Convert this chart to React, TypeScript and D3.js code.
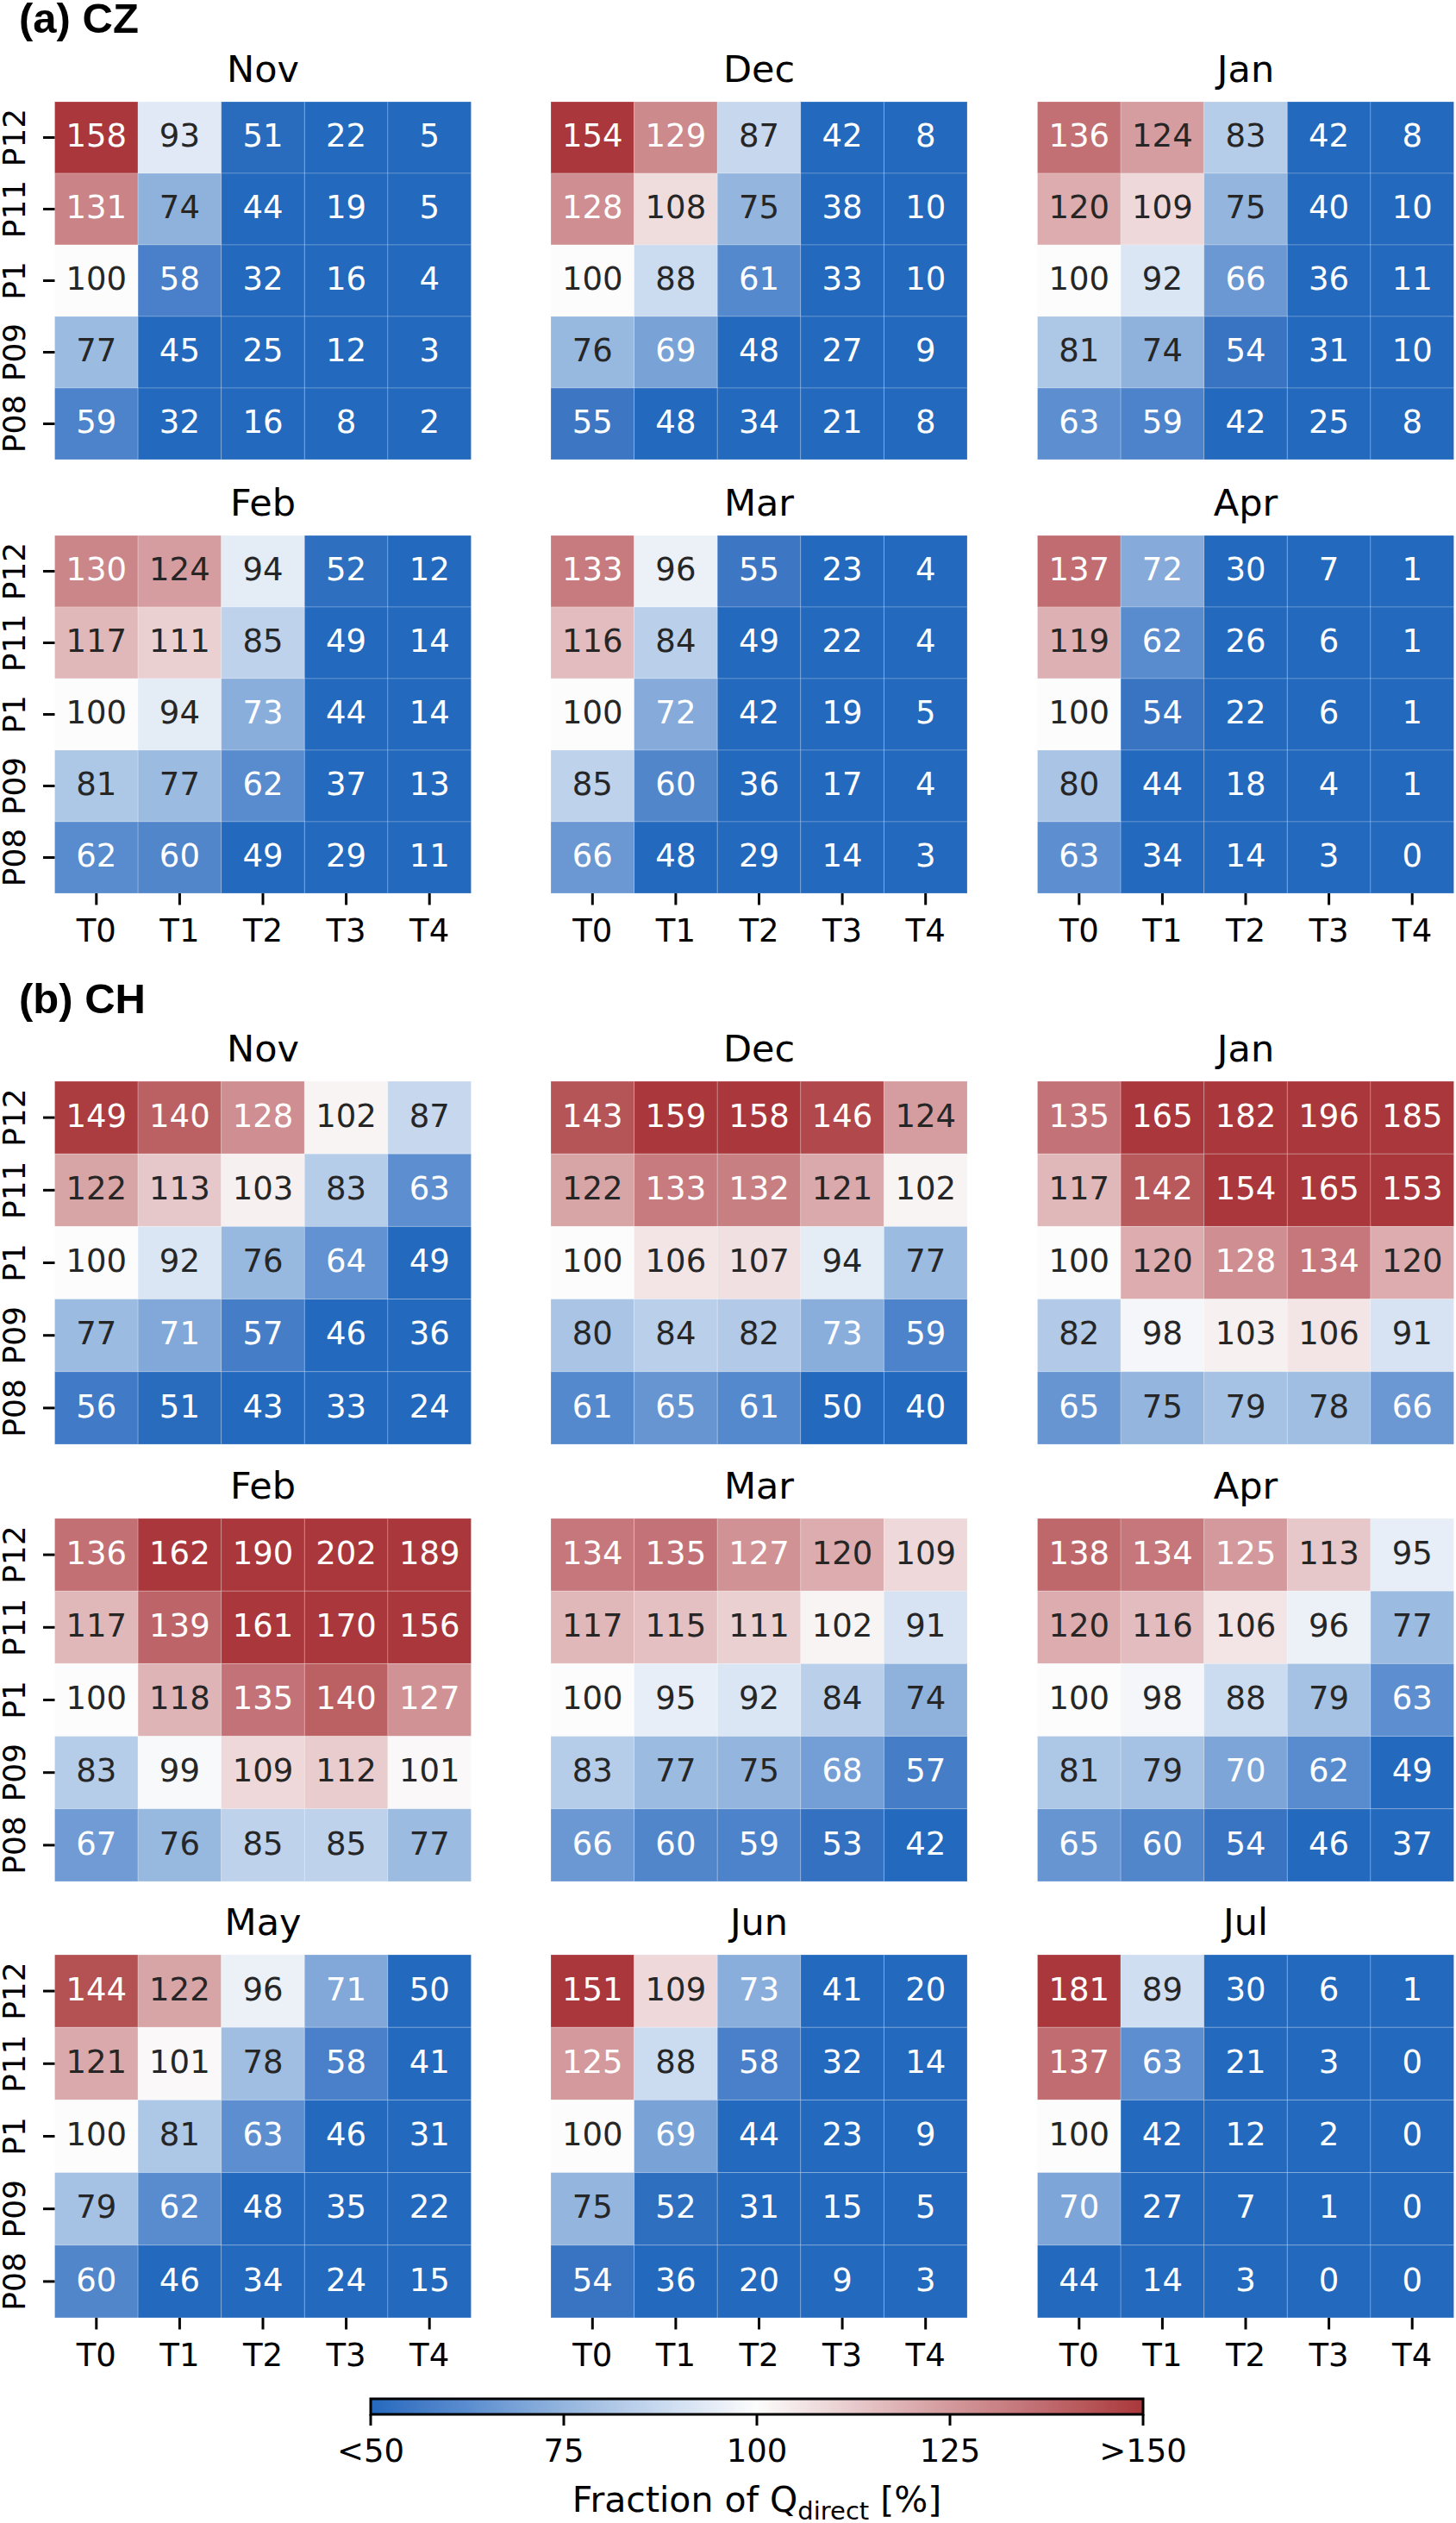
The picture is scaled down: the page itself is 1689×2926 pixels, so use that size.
import React from 'react';
import * as d3 from 'd3';

// ---- data ----
const rowLabels = ['P12', 'P11', 'P1', 'P09', 'P08'];
const colLabels = ['T0', 'T1', 'T2', 'T3', 'T4'];

const czMonths = ['Nov', 'Dec', 'Jan', 'Feb', 'Mar', 'Apr'];
const chMonths = ['Nov', 'Dec', 'Jan', 'Feb', 'Mar', 'Apr', 'May', 'Jun', 'Jul'];

const czNov = [[158, 93, 51, 22, 5], [131, 74, 44, 19, 5], [100, 58, 32, 16, 4], [77, 45, 25, 12, 3], [59, 32, 16, 8, 2]];
const czDec = [[154, 129, 87, 42, 8], [128, 108, 75, 38, 10], [100, 88, 61, 33, 10], [76, 69, 48, 27, 9], [55, 48, 34, 21, 8]];
const czJan = [[136, 124, 83, 42, 8], [120, 109, 75, 40, 10], [100, 92, 66, 36, 11], [81, 74, 54, 31, 10], [63, 59, 42, 25, 8]];
const czFeb = [[130, 124, 94, 52, 12], [117, 111, 85, 49, 14], [100, 94, 73, 44, 14], [81, 77, 62, 37, 13], [62, 60, 49, 29, 11]];
const czMar = [[133, 96, 55, 23, 4], [116, 84, 49, 22, 4], [100, 72, 42, 19, 5], [85, 60, 36, 17, 4], [66, 48, 29, 14, 3]];
const czApr = [[137, 72, 30, 7, 1], [119, 62, 26, 6, 1], [100, 54, 22, 6, 1], [80, 44, 18, 4, 1], [63, 34, 14, 3, 0]];

const chNov = [[149, 140, 128, 102, 87], [122, 113, 103, 83, 63], [100, 92, 76, 64, 49], [77, 71, 57, 46, 36], [56, 51, 43, 33, 24]];
const chDec = [[143, 159, 158, 146, 124], [122, 133, 132, 121, 102], [100, 106, 107, 94, 77], [80, 84, 82, 73, 59], [61, 65, 61, 50, 40]];
const chJan = [[135, 165, 182, 196, 185], [117, 142, 154, 165, 153], [100, 120, 128, 134, 120], [82, 98, 103, 106, 91], [65, 75, 79, 78, 66]];
const chFeb = [[136, 162, 190, 202, 189], [117, 139, 161, 170, 156], [100, 118, 135, 140, 127], [83, 99, 109, 112, 101], [67, 76, 85, 85, 77]];
const chMar = [[134, 135, 127, 120, 109], [117, 115, 111, 102, 91], [100, 95, 92, 84, 74], [83, 77, 75, 68, 57], [66, 60, 59, 53, 42]];
const chApr = [[138, 134, 125, 113, 95], [120, 116, 106, 96, 77], [100, 98, 88, 79, 63], [81, 79, 70, 62, 49], [65, 60, 54, 46, 37]];
const chMay = [[144, 122, 96, 71, 50], [121, 101, 78, 58, 41], [100, 81, 63, 46, 31], [79, 62, 48, 35, 22], [60, 46, 34, 24, 15]];
const chJun = [[151, 109, 73, 41, 20], [125, 88, 58, 32, 14], [100, 69, 44, 23, 9], [75, 52, 31, 15, 5], [54, 36, 20, 9, 3]];
const chJul = [[181, 89, 30, 6, 1], [137, 63, 21, 3, 0], [100, 42, 12, 2, 0], [70, 27, 7, 1, 0], [44, 14, 3, 0, 0]];

const czData = [czNov, czDec, czJan, czFeb, czMar, czApr];
const chData = [chNov, chDec, chJan, chFeb, chMar, chApr, chMay, chJun, chJul];

const cbarTicks = [50, 75, 100, 125, 150];
const cbarTickLabels = ['<50', '75', '100', '125', '>150'];

// ---- layout ----
const W = 1689;
const H = 2926;
const FONT = '"DejaVu Sans", sans-serif';
const panelX = [63.5, 639, 1203.5];
const panelW = 483;

// vlag-like diverging map
const color = d3.scaleLinear<string>()
  .domain([50, 62.5, 75, 87.5, 100, 112.5, 125, 137.5, 150])
  .range(['#2369bd', '#5a8dcf', '#93b5de', '#c9daef', '#fcfcfc', '#e8cacc', '#d3999c', '#bf6a6e', '#a9373b'])
  .interpolate(d3.interpolateLab)
  .clamp(true);

const textColor = (v: number) => (v < 73.5 || v > 124.5 ? '#ffffff' : '#262626');

interface PanelProps {
  x: number;
  y: number;
  h: number;
  title: string;
  values: number[][];
  showY: boolean;
  showX: boolean;
}

const Panel: React.FC<PanelProps> = ({ x, y, h, title, values, showY, showX }) => {
  const xs = d3.scaleBand().domain(colLabels).range([x, x + panelW]);
  const ys = d3.scaleBand().domain(rowLabels).range([y, y + h]);
  return (
    <g>
      <text x={x + panelW / 2} y={y - 23} textAnchor="middle" fontSize={43} fontFamily={FONT}>{title}</text>
      {values.map((row, i) => row.map((v, j) => (
        <g key={`${i}-${j}`}>
          <rect x={xs(colLabels[j])} y={ys(rowLabels[i])} width={xs.bandwidth()} height={ys.bandwidth()}
            fill={color(v)} stroke="rgba(255,255,255,0.22)" strokeWidth={1} />
          <text x={(xs(colLabels[j]) as number) + xs.bandwidth() / 2}
            y={(ys(rowLabels[i]) as number) + ys.bandwidth() / 2} dy="0.29em"
            textAnchor="middle" fontSize={37} fontFamily={FONT} fill={textColor(v)}>{v}</text>
        </g>
      )))}
      {showY && rowLabels.map(r => {
        const cy = (ys(r) as number) + ys.bandwidth() / 2;
        return (
          <g key={r}>
            <line x1={x - 13.5} x2={x} y1={cy} y2={cy} stroke="#000" strokeWidth={3} />
            <text transform={`translate(29,${cy}) rotate(-90)`} textAnchor="middle" fontSize={36} fontFamily={FONT}>{r}</text>
          </g>
        );
      })}
      {showX && colLabels.map(c => {
        const cx = (xs(c) as number) + xs.bandwidth() / 2;
        return (
          <g key={c}>
            <line x1={cx} x2={cx} y1={y + h} y2={y + h + 13.5} stroke="#000" strokeWidth={3} />
            <text x={cx} y={y + h + 56} textAnchor="middle" fontSize={37} fontFamily={FONT}>{c}</text>
          </g>
        );
      })}
    </g>
  );
};

const App: React.FC = () => {
  const czTops = [118, 621];
  const chTops = [1254, 1761, 2267];
  const czH = 415;
  const chH = 421;

  const cb = d3.scaleLinear().domain([50, 150]).range([430, 1326]);
  const cbY = 2782;
  const cbH = 18;
  const gradStops = d3.range(50, 150.01, 2.5);

  return (
    <svg width={W} height={H} viewBox={`0 0 ${W} ${H}`}
      style={{ position: 'absolute', left: 0, top: 0, display: 'block', background: '#fff' }}>
      <defs>
        <linearGradient id="cbar" x1="0" x2="1" y1="0" y2="0">
          {gradStops.map(s => (
            <stop key={s} offset={`${((s - 50) / 100) * 100}%`} stopColor={color(s)} />
          ))}
        </linearGradient>
      </defs>
      <rect width={W} height={H} fill="#fff" />

      <text x={22} y={37.5} fontSize={49} fontWeight="bold" fontFamily='"Liberation Sans", Arial, sans-serif'>(a) CZ</text>
      {czData.map((vals, k) => (
        <Panel key={`cz${k}`} x={panelX[k % 3]} y={czTops[Math.floor(k / 3)]} h={czH}
          title={czMonths[k]} values={vals} showY={k % 3 === 0} showX={Math.floor(k / 3) === 1} />
      ))}

      <text x={22} y={1175} fontSize={49} fontWeight="bold" fontFamily='"Liberation Sans", Arial, sans-serif'>(b) CH</text>
      {chData.map((vals, k) => (
        <Panel key={`ch${k}`} x={panelX[k % 3]} y={chTops[Math.floor(k / 3)]} h={chH}
          title={chMonths[k]} values={vals} showY={k % 3 === 0} showX={Math.floor(k / 3) === 2} />
      ))}

      {/* colour bar */}
      <rect x={cb(50)} y={cbY} width={cb(150) - cb(50)} height={cbH} fill="url(#cbar)" stroke="#000" strokeWidth={3} />
      {cbarTicks.map((t, i) => (
        <g key={t}>
          <line x1={cb(t)} x2={cb(t)} y1={cbY + cbH} y2={cbY + cbH + 13} stroke="#000" strokeWidth={3} />
          <text x={cb(t)} y={2855} textAnchor="middle" fontSize={37} fontFamily={FONT}>{cbarTickLabels[i]}</text>
        </g>
      ))}
      <text x={(cb(50) + cb(150)) / 2} y={2913} textAnchor="middle" fontSize={41} fontFamily={FONT}>
        Fraction of Q<tspan fontSize={29} dy={9}>direct</tspan><tspan dy={-9}> [%]</tspan>
      </text>
    </svg>
  );
};

export default App;
